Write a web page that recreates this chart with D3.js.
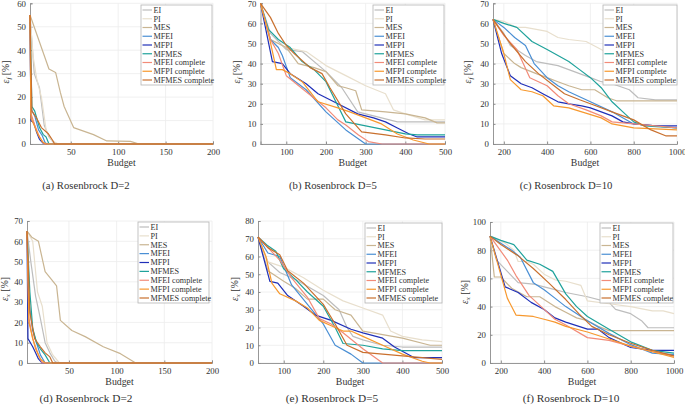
<!DOCTYPE html>
<html><head><meta charset="utf-8">
<script src="https://cdn.jsdelivr.net/npm/d3@7"></script>
<style>body{margin:0;background:#fff}svg{display:block}
svg text{font-family:"Liberation Serif","Times New Roman",Times,serif;}</style>
</head><body>
<svg id="chart" width="685" height="408"></svg>
<script>
// ---------- Data ----------
const methods = ["EI","PI","MES","MFEI","MFPI","MFMES","MFEI complete","MFPI complete","MFMES complete"];
const colors = ["#bdbdbd","#e8dfcd","#c9b592","#4a8fd4","#1f2fb8","#1fa29b","#f28b78","#f7982d","#c9702e"];

// (a) eps_f, Rosenbrock D=2
const a_EI = [[7,55],[11.5,30],[17,24],[22,8],[27,3],[32,0.5],[35,0],[200,0]];
const a_PI = [[7,55],[10,38],[14,28],[19,20],[24,6],[30,1.5],[37,0],[200,0]];
const a_MES = [[7,55],[27,32],[34,30.5],[39,22],[43,16],[53,7],[74,4],[88,1.3],[113,1.1],[122,0],[200,0]];
const a_MFEI = [[7,52],[8,15],[12,12],[16,6],[20,3.5],[23,0.5],[25,0],[200,0]];
const a_MFPI = [[7,55],[8,10],[11,9],[14,5],[17,2],[21,0.3],[24,0],[200,0]];
const a_MFMES = [[7,55],[9,16],[12,14],[17,7],[21,4],[24,3],[27,0],[200,0]];
const a_MFEIc = [[7,55],[8,13],[12,8],[17,3],[22,0],[200,0]];
const a_MFPIc = [[7,55],[8,11],[12,7.5],[15,4.5],[20,1],[24,0],[200,0]];
const a_MFMESc = [[7,55],[9,14],[14,11],[19,7],[26,4.5],[31,1.5],[33,0],[200,0]];

// (b) eps_f, Rosenbrock D=5
const b_EI = [[35,70],[60,55],[100,47],[140,46],[200,36],[240,28],[280,16],[320,14],[360,12],[380,11],[500,11]];
const b_PI = [[35,70],[60,52],[100,48],[150,46],[200,39],[250,34],[300,29],[350,25],[370,17],[400,15],[450,12],[500,12]];
const b_MES = [[35,70],[60,52],[100,48],[130,40],[170,38],[200,36],[230,29],[250,28],[275,26.5],[290,17],[350,16],[400,15],[450,13],[480,10.5],[500,10.5]];
const b_MFEI = [[35,70],[60,52],[80,48],[90,44],[110,33],[150,27],[200,16],[250,7],[300,0],[500,0]];
const b_MFPI = [[35,70],[65,41],[90,40],[110,35],[150,30],[180,25],[230,20],[280,15],[320,13],[350,11],[380,8],[410,5],[430,3.5],[500,3.5]];
const b_MFMES = [[35,70],[55,57],[80,52],[110,48],[140,41],[170,37],[200,31],[230,19],[250,11],[300,9],[350,7],[400,5],[430,4.5],[500,4.5]];
const b_MFEIc = [[35,70],[60,52],[80,45],[100,34],[150,26],[200,18],[230,12],[250,9.5],[282,4.5],[307,1.2],[341,0],[500,0]];
const b_MFPIc = [[35,70],[55,55],[75,37],[90,37],[110,35],[140,31],[180,21],[230,18],[260,16],[300,13],[340,10],[380,5],[420,2],[460,0],[500,0]];
const b_MFMESc = [[35,70],[60,63],[80,55],[100,49],[120,45],[160,38],[190,35],[210,28],[250,15],[290,6],[350,4.5],[400,3],[450,2.5],[500,2.5]];

// (c) eps_f, Rosenbrock D=10
const c_EI = [[150,62],[200,55],[230,49],[300,44],[350,41],[400,40],[450,39],[500,37],[550,35],[600,33],[650,31],[700,30],[780,27],[820,23],[900,22],[1000,22]];
const c_PI = [[150,62],[200,61],[260,58],[300,58],[350,57],[400,56],[450,53],[500,52],[580,51],[650,47],[700,44],[780,40],[850,38],[950,35],[1000,34]];
const c_MES = [[150,62],[200,45],[250,40],[280,38],[350,35],[400,33],[450,31],[500,29],[560,27],[620,27],[680,23],[720,21.5],[1000,21.5]];
const c_MFEI = [[150,62],[200,58],[250,53],[300,49],[340,40],[400,33],[450,29],[500,26],[600,21],[700,16],[800,10],[900,9],[1000,8]];
const c_MFPI = [[150,62],[190,45],[230,34],[280,30],[330,28],[380,25],[450,21],[500,20],[560,19],[600,18],[700,14],[750,11],[800,10],[900,9],[1000,9]];
const c_MFMES = [[150,62],[200,60],[260,58],[330,51],[400,47],[450,44],[500,41],[550,37],[600,33],[650,28],[700,21],[750,16],[800,11],[850,9],[1000,8]];
const c_MFEIc = [[150,62],[200,54],[260,47],[320,33],[400,29],[450,24],[500,20],[580,17],[650,14],[700,11],[800,10],[1000,8]];
const c_MFPIc = [[150,62],[200,45],[230,32],[280,27],[330,26],[380,24],[430,19],[500,18],[560,16],[650,13],[700,10],[800,8],[1000,7]];
const c_MFMESc = [[150,62],[230,50],[300,41],[360,35],[420,30],[480,25],[550,22],[600,20],[700,16],[800,12],[880,7],[950,4],[1000,4]];

// (d) eps_x, Rosenbrock D=2
const d_EI = [[6,65],[10,50],[15,33],[20,22],[25,10],[30,5],[35,1],[38,0],[200,0]];
const d_PI = [[6,65],[12,60],[17,35],[22,28],[27,10],[33,4],[40,0],[200,0]];
const d_MES = [[6,65],[11,62],[18,60],[25,45],[32,41],[37,38],[41,21],[53,16],[67,13],[86,8],[104,4.6],[120,0],[200,0]];
const d_MFEI = [[6,65],[8,30],[12,16],[16,10],[20,4],[25,0],[200,0]];
const d_MFPI = [[6,65],[7,12],[12,8],[15,5],[18,2],[22,0],[200,0]];
const d_MFMES = [[6,65],[9,35],[12,17],[16,10],[20,7],[25,4],[30,0],[200,0]];
const d_MFEIc = [[6,65],[8,22],[12,12],[15,8],[18,4],[22,0],[200,0]];
const d_MFPIc = [[6,65],[8,20],[12,12],[15,7],[20,2],[25,0],[200,0]];
const d_MFMESc = [[6,65],[9,25],[14,12],[20,8],[25,5],[30,3],[33,0],[200,0]];

// (e) eps_x, Rosenbrock D=5
const e_EI = [[35,71],[60,57],[90,51],[130,47],[200,38],[240,30],[260,20],[275,15],[300,13],[350,10],[400,9],[500,9]];
const e_PI = [[35,71],[60,57],[100,54],[150,48],[200,41],[250,35],[300,31],[350,27],[370,18],[400,15],[450,13],[500,12]];
const e_MES = [[35,71],[60,52],[100,46],[130,42],[160,36],[200,36],[230,30],[270,27],[300,18],[350,16],[400,14],[470,10],[500,10]];
const e_MFEI = [[35,71],[60,62],[90,60],[120,44],[160,33],[200,22],[230,10],[270,5],[300,0],[500,0]];
const e_MFPI = [[35,71],[65,46],[85,45],[110,38],[150,32],[180,27],[220,24],[270,19],[300,17],[350,14],[380,9],[430,3],[500,3]];
const e_MFMES = [[35,71],[60,66],[80,63],[100,53],[130,47],[160,40],[200,32],[230,20],[250,11],[300,10],[350,8],[400,7],[500,7]];
const e_MFEIc = [[35,71],[60,65],[90,58],[120,48],[160,37],[190,25],[220,22],[250,17],[300,8],[350,0],[500,0]];
const e_MFPIc = [[35,71],[55,60],[70,45],[90,39],[130,35],[160,31],[190,24],[220,21],[250,18],[270,18],[300,15],[350,10],[400,5],[450,1],[470,0],[500,0]];
const e_MFMESc = [[35,71],[60,65],[90,61],[110,52],[150,45],[200,33],[230,22],[260,10],[300,6],[350,5],[400,4],[450,3],[500,2]];

// (f) eps_x, Rosenbrock D=10
const f_EI = [[150,90],[180,73],[230,65],[280,57],[350,56],[400,54],[450,52],[500,50],[600,47],[700,43],[730,38],[800,35],[850,30],[880,25],[1000,25]];
const f_PI = [[150,90],[220,85],[260,80],[280,72],[320,72],[350,70],[400,63],[450,59],[500,58],[570,55],[600,44],[700,42],[800,40],[900,37],[950,37],[1000,35]];
const f_MES = [[150,90],[170,61],[200,61],[250,53],[320,47],[380,47],[450,40],[500,36],[550,32],[600,30],[650,26],[700,23],[1000,23]];
const f_MFEI = [[150,90],[200,85],[250,80],[290,75],[350,57],[400,52],[450,46],[500,40],[600,30],[700,21],[800,13],[900,7],[1000,6]];
const f_MFPI = [[150,90],[220,54],[280,50],[340,43],[400,38],[450,32],[500,29],[600,24],[650,24],[700,18],[800,11],[900,9],[1000,9]];
const f_MFMES = [[150,90],[200,87],[260,84],[320,73],[380,70],[440,65],[500,49],[550,40],[600,33],[700,24],[800,15],[900,9],[1000,7]];
const f_MFEIc = [[150,90],[230,73],[270,62],[330,48],[400,38],[450,31],[500,27],[600,18],[700,16],[800,12],[900,8],[1000,5]];
const f_MFPIc = [[150,90],[230,46],[270,34],[350,33],[400,31],[450,29],[500,26],[600,22],[700,17],[800,12],[900,8],[1000,4]];
const f_MFMESc = [[150,90],[200,84],[280,76],[350,67],[420,57],[500,45],[560,35],[620,26],[700,20],[800,14],[900,9],[1000,5]];

// tick values
const ticksA_x = [50,100,150,200], ticksA_y = [0,10,20,30,40,50,60];
const ticksB_x = [100,200,300,400,500], ticksB_y = [0,10,20,30,40,50,60,70];
const ticksC_x = [200,400,600,800,1000], ticksC_y = [0,10,20,30,40,50,60,70];
const ticksD_x = [50,100,150,200], ticksD_y = [0,10,20,30,40,50,60,70];
const ticksE_x = [100,200,300,400,500], ticksE_y = [0,10,20,30,40,50,60,70,80];
const ticksF_x = [200,400,600,800,1000], ticksF_y = [0,20,40,60,80,100];

const captions = ["(a) Rosenbrock D=2","(b) Rosenbrock D=5","(c) Rosenbrock D=10","(d) Rosenbrock D=2","(e) Rosenbrock D=5","(f) Rosenbrock D=10"];

// ---------- Layout ----------
const panels = [
  {series:[a_EI,a_PI,a_MES,a_MFEI,a_MFPI,a_MFMES,a_MFEIc,a_MFPIc,a_MFMESc], xd:[7,200], xr:[30,213], yd:[0,60], yr:[144,3.3], xt:ticksA_x, yt:ticksA_y, sub:"f", ylx:9, yly:72, leg:[141,5,71,80], cap:[86,189]},
  {series:[b_EI,b_PI,b_MES,b_MFEI,b_MFPI,b_MFMES,b_MFEIc,b_MFPIc,b_MFMESc], xd:[35,500], xr:[260.5,445], yd:[0,70], yr:[144,3.3], xt:ticksB_x, yt:ticksB_y, sub:"f", ylx:240, yly:72, leg:[373,5,71,80], cap:[333,189]},
  {series:[c_EI,c_PI,c_MES,c_MFEI,c_MFPI,c_MFMES,c_MFEIc,c_MFPIc,c_MFMESc], xd:[150,1000], xr:[493,677], yd:[0,70], yr:[144,3.3], xt:ticksC_x, yt:ticksC_y, sub:"f", ylx:471, yly:72, leg:[603,5,74,80], cap:[566,189]},
  {series:[d_EI,d_PI,d_MES,d_MFEI,d_MFPI,d_MFMES,d_MFEIc,d_MFPIc,d_MFMESc], xd:[6,200], xr:[27,212], yd:[0,70], yr:[363,221], xt:ticksD_x, yt:ticksD_y, sub:"x", ylx:8, yly:289, leg:[138,222,71,81], cap:[86,402]},
  {series:[e_EI,e_PI,e_MES,e_MFEI,e_MFPI,e_MFMES,e_MFEIc,e_MFPIc,e_MFMESc], xd:[35,500], xr:[258,442], yd:[0,80], yr:[363,221], xt:ticksE_x, yt:ticksE_y, sub:"x", ylx:238, yly:289, leg:[365,223,77,80], cap:[332,402]},
  {series:[f_EI,f_PI,f_MES,f_MFEI,f_MFPI,f_MFMES,f_MFEIc,f_MFPIc,f_MFMESc], xd:[150,1000], xr:[490,674], yd:[0,100], yr:[363,222], xt:ticksF_x, yt:ticksF_y, sub:"x", ylx:468, yly:292, leg:[600,223,73,80], cap:[571,402]}
];

const svg = d3.select("#chart");

panels.forEach((p, pi) => {
  const x = d3.scaleLinear().domain(p.xd).range(p.xr);
  const y = d3.scaleLinear().domain(p.yd).range(p.yr);
  const g = svg.append("g");
  const [x0,x1] = p.xr, [yb,yt] = p.yr;

  // grid
  g.selectAll(".gx").data(p.xt).join("line")
    .attr("x1", d=>x(d)).attr("x2", d=>x(d)).attr("y1", yb).attr("y2", yt)
    .attr("stroke", "#ececec").attr("stroke-width", 0.8);
  g.selectAll(".gy").data(p.yt).join("line")
    .attr("x1", x0).attr("x2", x1).attr("y1", d=>y(d)).attr("y2", d=>y(d))
    .attr("stroke", "#ececec").attr("stroke-width", 0.8);

  // axes
  const xAxis = d3.axisBottom(x).tickValues(p.xt).tickSize(-2.5).tickPadding(5).tickFormat(d3.format("d"));
  const yAxis = d3.axisLeft(y).tickValues(p.yt).tickSize(-2.5).tickPadding(4).tickFormat(d3.format("d"));
  const gx = g.append("g").attr("transform", `translate(0,${yb})`).call(xAxis);
  const gy = g.append("g").attr("transform", `translate(${x0},0)`).call(yAxis);
  [gx, gy].forEach(a => {
    a.attr("font-family", null);
    a.select(".domain").attr("stroke", "#8c8c8c").attr("stroke-width", 0.9);
    a.selectAll(".tick line").attr("stroke", "#8c8c8c");
    a.selectAll("text").style("font-size", "8.8px").attr("fill", "#333");
  });

  // lines
  const line = d3.line().x(d=>x(d[0])).y(d=>y(d[1]));
  p.series.forEach((s, i) => {
    g.append("path").datum(s).attr("d", line)
      .attr("fill", "none").attr("stroke", colors[i]).attr("stroke-width", 1.2)
      .attr("stroke-linejoin", "round");
  });

  // x label
  g.append("text").attr("x", (x0+x1)/2).attr("y", yb + 22)
    .attr("text-anchor", "middle").style("font-size", "9.8px").attr("fill", "#333")
    .text("Budget");

  // y label
  const yl = g.append("text").attr("transform", `translate(${p.ylx},${p.yly}) rotate(-90)`)
    .attr("text-anchor", "middle").style("font-size", "9.8px").attr("fill", "#333");
  yl.append("tspan").attr("font-style", "italic").text("ε");
  yl.append("tspan").attr("font-style", "italic").style("font-size", "7px").attr("dy", 2).text(p.sub);
  yl.append("tspan").attr("dy", -2).text(" [%]");

  // legend
  const [lx, ly, lw, lh] = p.leg;
  const lg = g.append("g");
  lg.append("rect").attr("x", lx).attr("y", ly).attr("width", lw).attr("height", lh)
    .attr("fill", "#fff").attr("stroke", "#b5b5b5").attr("stroke-width", 0.8);
  const rowH = (lh - 10) / (methods.length - 1);
  methods.forEach((m, i) => {
    const cy = ly + 5 + i * rowH;
    lg.append("line").attr("x1", lx + 1.5).attr("x2", lx + 11).attr("y1", cy).attr("y2", cy)
      .attr("stroke", colors[i]).attr("stroke-width", 1.2);
    lg.append("text").attr("x", lx + 12.5).attr("y", cy + 2.8)
      .style("font-size", "8.2px").attr("fill", "#333").text(m);
  });

  // caption
  g.append("text").attr("x", p.cap[0]).attr("y", p.cap[1]).attr("text-anchor", "middle")
    .style("font-size", pi < 3 ? "10.7px" : "11.3px").attr("fill", "#333")
    .text(captions[pi]);
});
</script>
</body></html>
